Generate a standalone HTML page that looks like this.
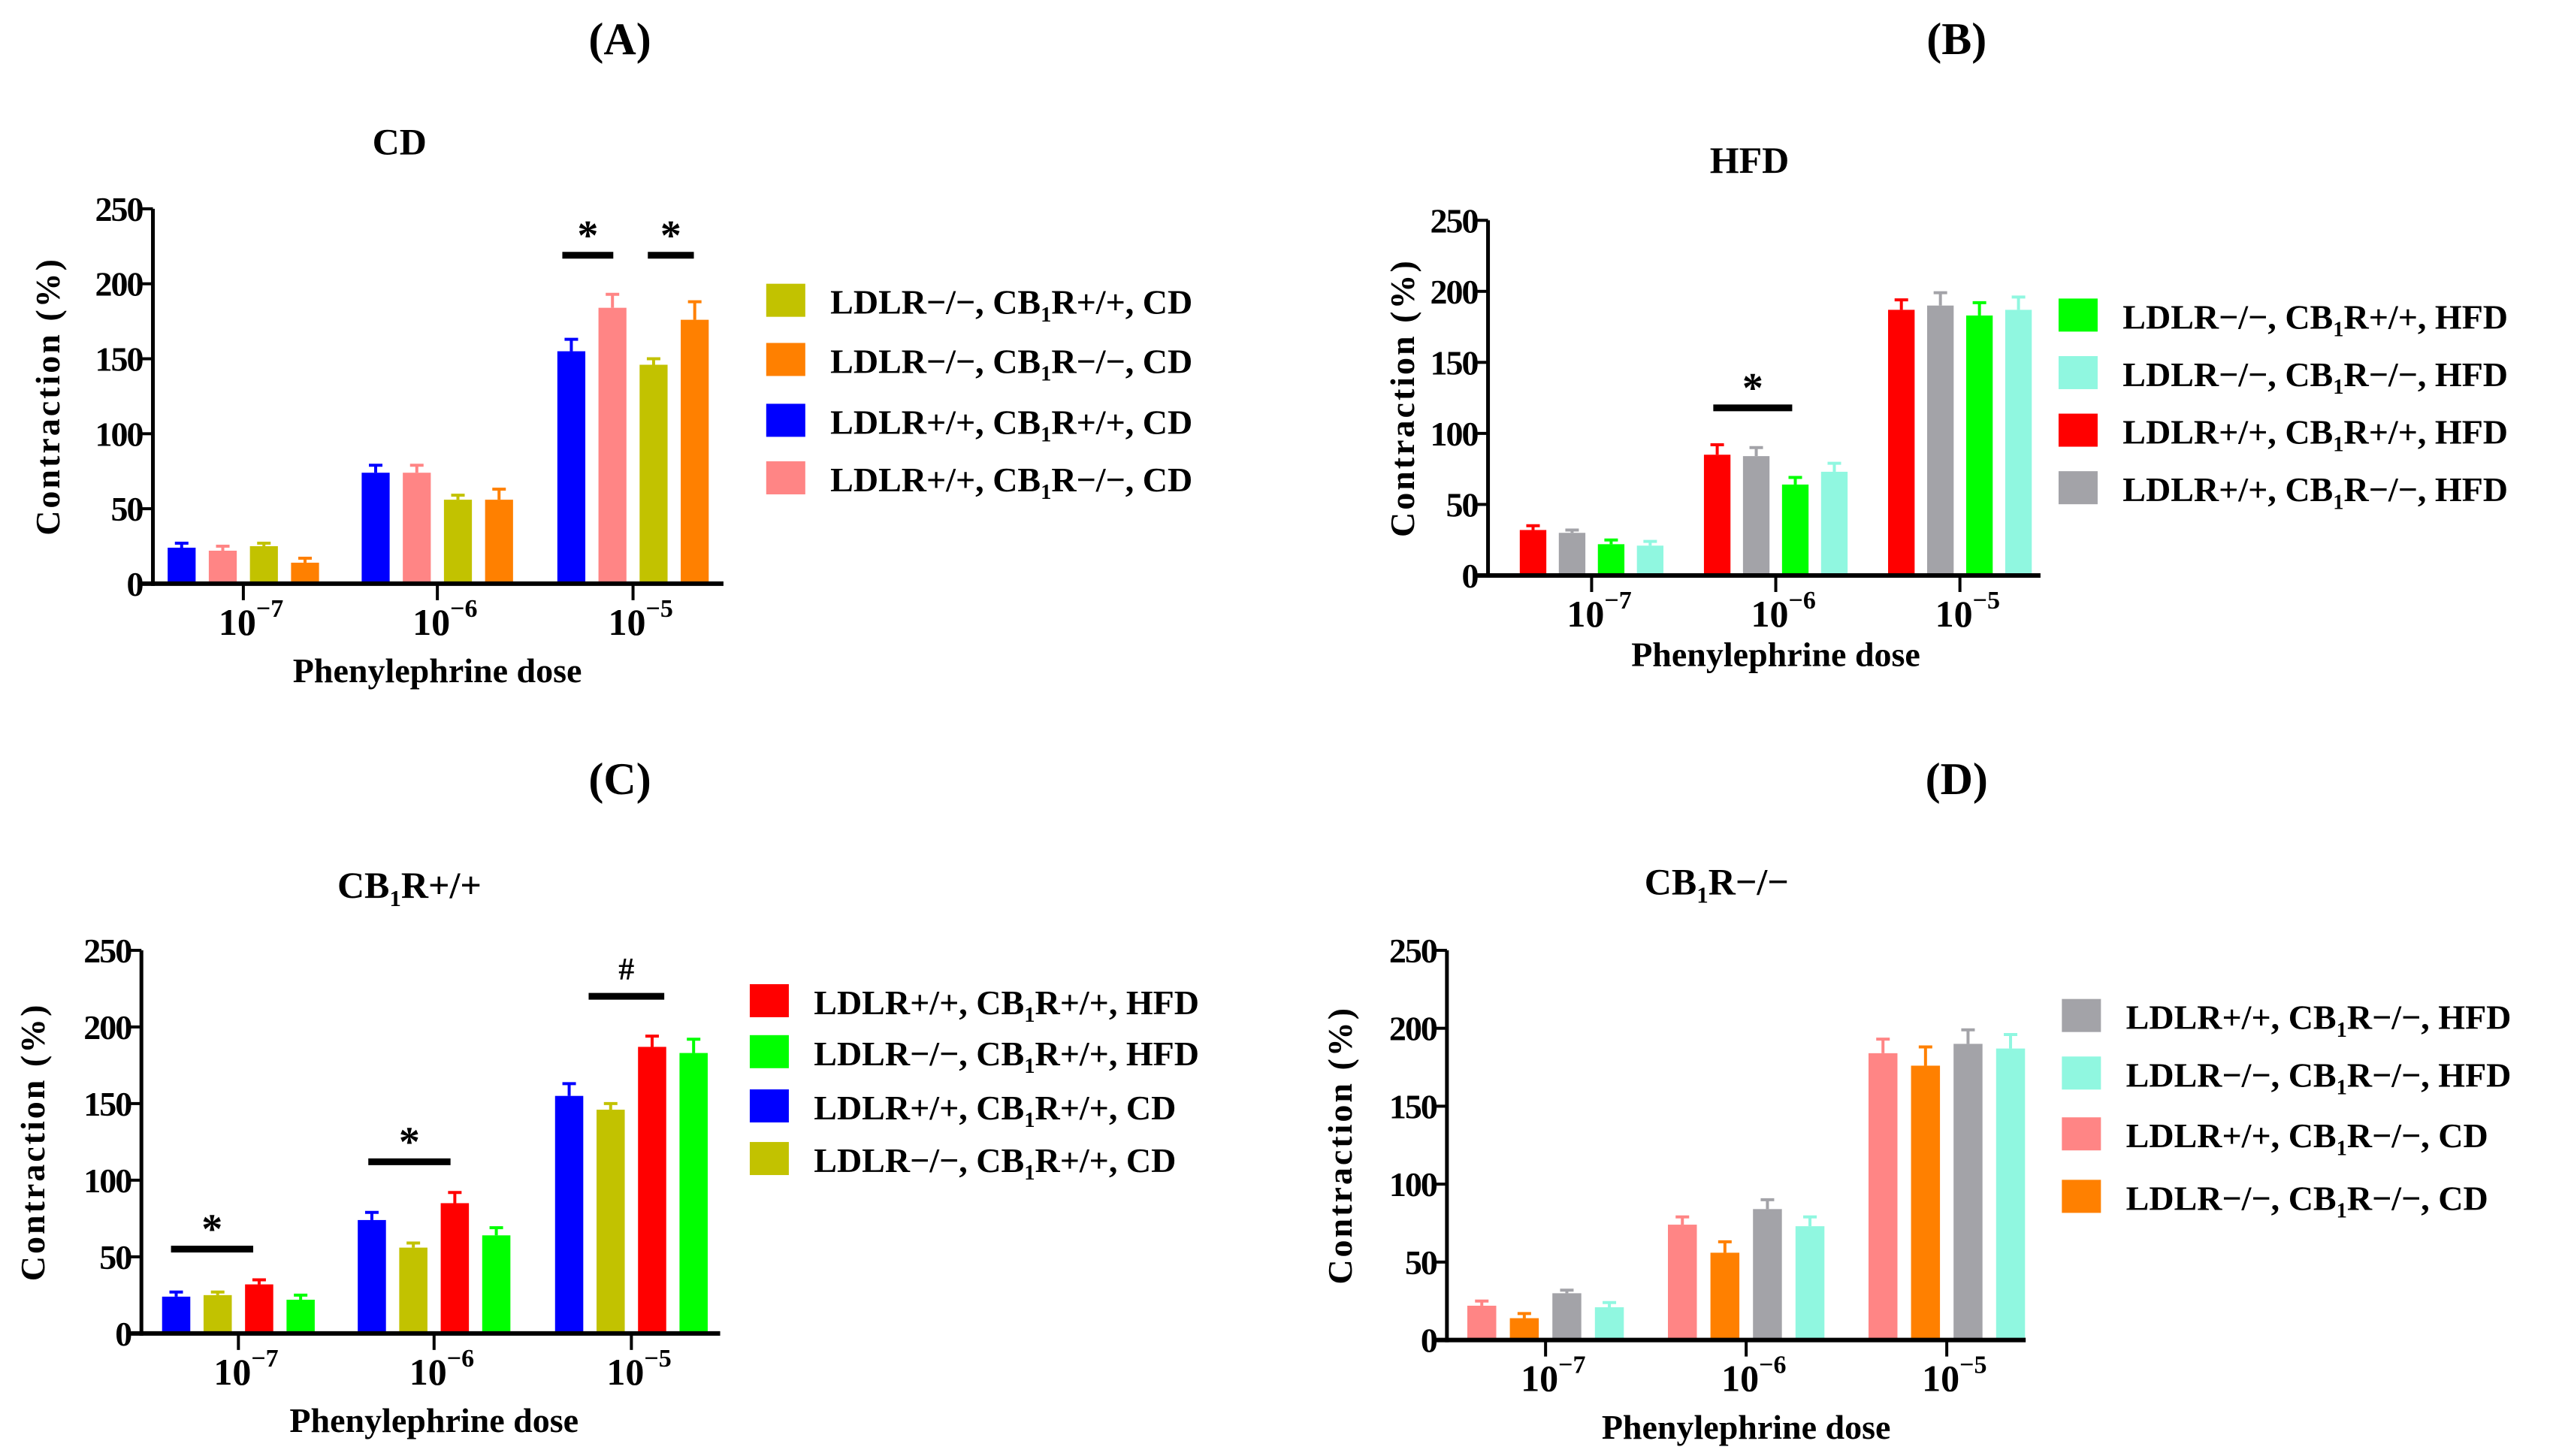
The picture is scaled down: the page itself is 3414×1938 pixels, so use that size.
<!DOCTYPE html>
<html><head><meta charset="utf-8"><style>
html,body{margin:0;padding:0;background:#fff;}
svg, svg text{font-family:"Liberation Serif","Times New Roman",serif;font-weight:bold;}
</style></head><body>
<svg id="fig" width="3414" height="1933" viewBox="0 0 3414 1933" xmlns="http://www.w3.org/2000/svg" font-family="Liberation Serif, serif" font-weight="bold"></svg>
<script>
// ---- data ----
const doses = ["−7","−6","−5"];
const yTicks = [0,50,100,150,200,250];
// Panel A (CD)
const aBlue = [24,74,155], aBlueErr=[3,5,8];
const aPink = [22,74,184], aPinkErr=[3,5,9];
const aOlive = [25,56,146], aOliveErr=[2,3,4];
const aOrange = [14,56,176], aOrangeErr=[3,7,12];
// Panel B (HFD)
const bRed = [32,85,187], bRedErr=[3,7,7];
const bGray = [30,84,190], bGrayErr=[2,6,9];
const bGreen = [22,64,183], bGreenErr=[3,5,9];
const bAqua = [21,73,187], bAquaErr=[3,6,9];

const s = 3414/1560;
const svg = document.getElementById('fig');
const NS = "http://www.w3.org/2000/svg";
function el(tag, attrs, parent){const e=document.createElementNS(NS,tag);for(const k in attrs)e.setAttribute(k,attrs[k]);(parent||svg).appendChild(e);return e;}

function richText(g, x, y, str, size, anchor){
  const t = el('text',{x:x,y:y,'font-size':size,'text-anchor':anchor||'start','font-family':'Liberation Serif, serif','font-weight':'bold'},g);
  const parts = str.split('CB1');
  let pendingDy = 0;
  parts.forEach((p,i)=>{
    if(i>0){
      const a=document.createElementNS(NS,'tspan');a.textContent='CB';t.appendChild(a);
      const b=document.createElementNS(NS,'tspan');b.setAttribute('font-size',size*0.62);b.setAttribute('dy',size*0.22);b.textContent='1';t.appendChild(b);
      pendingDy = -size*0.22;
    }
    const d=document.createElementNS(NS,'tspan');
    if(pendingDy){d.setAttribute('dy',pendingDy);pendingDy=0;}
    d.textContent=p;t.appendChild(d);
  });
  return t;
}

function panel(cfg){
  const g = el('g',{});
  
  
  const ax=cfg.ax*s, y0=cfg.y0*s, yTop=cfg.yTop*s, xEnd=cfg.xEnd*s;
  const yv = v => y0 - (v/250)*(y0-yTop);
  const gx = i => cfg.groups[i]*s;
  const gsp = (cfg.groups[1]-cfg.groups[0])*s;
  const step = gsp*0.212, bw = step*0.68;
  const L = el('text',{x:cfg.letter[0]*s,y:cfg.letter[1]*s,'font-size':60,'text-anchor':'middle'},g);
  L.textContent=cfg.letterText;
   
  const T = richText(g, cfg.title[0]*s, cfg.title[1]*s, cfg.titleText, 50, 'middle');
   
  cfg.series.forEach((ser,si)=>{
    ser.vals.forEach((v,gi)=>{
      const cx = gx(gi) + (si-1.5)*step;
      const top = yv(v), et = yv(v+ser.err[gi]);
      const ln = el('line',{x1:cx,x2:cx,y1:top,y2:et,stroke:ser.color,'stroke-width':4},g);
       
      const cap = el('line',{x1:cx-9,x2:cx+9,y1:et,y2:et,stroke:ser.color,'stroke-width':4},g);
       
      const r = el('rect',{x:cx-bw/2,y:top,width:bw,height:y0-top,fill:ser.color},g);
       
    });
  });
  const ya = el('line',{x1:ax,x2:ax,y1:yTop,y2:y0+3,stroke:'#000','stroke-width':5},g);
   
  const xa = el('line',{x1:ax-14,x2:xEnd,y1:y0,y2:y0,stroke:'#000','stroke-width':6},g);
   
  yTicks.forEach(v=>{
    const y=yv(v);
    el('line',{x1:ax-14,x2:ax,y1:y,y2:y,stroke:'#000','stroke-width':4},g);
    const t=el('text',{x:ax-14,y:y+16,'font-size':46,'text-anchor':'end','letter-spacing':-2},g);
    t.textContent=v;
     
  });
  doses.forEach((d,i)=>{
    const x=gx(i);
    el('line',{x1:x,x2:x,y1:y0,y2:y0+22,stroke:'#000','stroke-width':4},g);
    const t=el('text',{x:x-8,y:y0+68,'font-size':50,'text-anchor':'middle'},g);
    t.textContent='10';
     
    const sp=el('text',{x:x+17,y:y0+44,'font-size':34,'text-anchor':'start'},g);
    sp.textContent=d;
  });
  const xt=el('text',{x:(cfg.groups[1])*s,y:y0+(cfg.xTitleOff)*s,'font-size':46,'text-anchor':'middle'},g);
  xt.textContent='Phenylephrine dose';
   
  const ytx=cfg.yTitleX*s, yty=(y0+yTop)/2;
  const yt=el('text',{x:ytx,y:yty,'font-size':46,'text-anchor':'middle','letter-spacing':3,transform:`rotate(-90 ${ytx} ${yty})`},g);
  yt.textContent='Contraction (%)';
   
  cfg.sig.forEach(sg=>{
    const y=yv(sg.v);
    const ln=el('line',{x1:sg.x1*s,x2:sg.x2*s,y1:y,y2:y,stroke:'#000','stroke-width':9},g);
     
    const t=el('text',{x:(sg.x1+sg.x2)/2*s,y:y-(sg.sym==='*'?8:22),'font-size':sg.sym==='*'?56:42,'text-anchor':'middle'},g);
    t.textContent=sg.sym;
     
  });
  cfg.legend.forEach((lg,i)=>{
    const y=cfg.legY[i]*s;
    const lgG=el('g',{},g);
     
    el('rect',{x:cfg.legX*s,y:y-25,width:52,height:44,fill:lg.color},lgG);
    richText(lgG,(cfg.legX+39)*s,y+15,lg.label,46,'start');
  });
}

const C = {blue:'#0000ff',pink:'#ff8585',olive:'#c2c200',orange:'#ff8000',red:'#ff0000',gray:'#a3a3a8',green:'#00ff00',aqua:'#90f7e0'};

panel({name:'panel-a',letterText:'(A)',letter:[377,33],titleText:'CD',title:[243,94],
  ax:93,y0:355,yTop:127,xEnd:440,groups:[148,266,385],xTitleOff:60,yTitleX:36,
  series:[{vals:aBlue,err:aBlueErr,color:C.blue},{vals:aPink,err:aPinkErr,color:C.pink},{vals:aOlive,err:aOliveErr,color:C.olive},{vals:aOrange,err:aOrangeErr,color:C.orange}],
  sig:[{x1:342,x2:373,v:219,sym:'*'},{x1:394,x2:422,v:219,sym:'*'}],
  legX:466,legY:[184,220,257,292],
  legend:[{color:C.olive,label:'LDLR−/−, CB1R+/+, CD'},{color:C.orange,label:'LDLR−/−, CB1R−/−, CD'},{color:C.blue,label:'LDLR+/+, CB1R+/+, CD'},{color:C.pink,label:'LDLR+/+, CB1R−/−, CD'}]});

panel({name:'panel-b',letterText:'(B)',letter:[1190,33],titleText:'HFD',title:[1064,105],
  ax:905,y0:350,yTop:134,xEnd:1241,groups:[968,1080,1192],xTitleOff:55,yTitleX:860,
  series:[{vals:bRed,err:bRedErr,color:C.red},{vals:bGray,err:bGrayErr,color:C.gray},{vals:bGreen,err:bGreenErr,color:C.green},{vals:bAqua,err:bAquaErr,color:C.aqua}],
  sig:[{x1:1042,x2:1090,v:118,sym:'*'}],
  legX:1252,legY:[193,228,263,298],
  legend:[{color:C.green,label:'LDLR−/−, CB1R+/+, HFD'},{color:C.aqua,label:'LDLR−/−, CB1R−/−, HFD'},{color:C.red,label:'LDLR+/+, CB1R+/+, HFD'},{color:C.gray,label:'LDLR+/+, CB1R−/−, HFD'}]});

panel({name:'panel-c',letterText:'(C)',letter:[377,483],titleText:'CB1R+/+',title:[249,546],
  ax:86,y0:811,yTop:578,xEnd:438,groups:[145,264,384],xTitleOff:60,yTitleX:27,
  series:[{vals:aBlue,err:aBlueErr,color:C.blue},{vals:aOlive,err:aOliveErr,color:C.olive},{vals:bRed,err:bRedErr,color:C.red},{vals:bGreen,err:bGreenErr,color:C.green}],
  sig:[{x1:104,x2:154,v:55,sym:'*'},{x1:224,x2:274,v:112,sym:'*'},{x1:358,x2:404,v:220,sym:'#'}],
  legX:456,legY:[610,641,674,706],
  legend:[{color:C.red,label:'LDLR+/+, CB1R+/+, HFD'},{color:C.green,label:'LDLR−/−, CB1R+/+, HFD'},{color:C.blue,label:'LDLR+/+, CB1R+/+, CD'},{color:C.olive,label:'LDLR−/−, CB1R+/+, CD'}]});

panel({name:'panel-d',letterText:'(D)',letter:[1190,483],titleText:'CB1R−/−',title:[1044,544],
  ax:880,y0:815,yTop:578,xEnd:1232,groups:[940,1062,1184],xTitleOff:60,yTitleX:822,
  series:[{vals:aPink,err:aPinkErr,color:C.pink},{vals:aOrange,err:aOrangeErr,color:C.orange},{vals:bGray,err:bGrayErr,color:C.gray},{vals:bAqua,err:bAquaErr,color:C.aqua}],
  sig:[],
  legX:1254,legY:[619,654,691,729],
  legend:[{color:C.gray,label:'LDLR+/+, CB1R−/−, HFD'},{color:C.aqua,label:'LDLR−/−, CB1R−/−, HFD'},{color:C.pink,label:'LDLR+/+, CB1R−/−, CD'},{color:C.orange,label:'LDLR−/−, CB1R−/−, CD'}]});
</script>
</body></html>
